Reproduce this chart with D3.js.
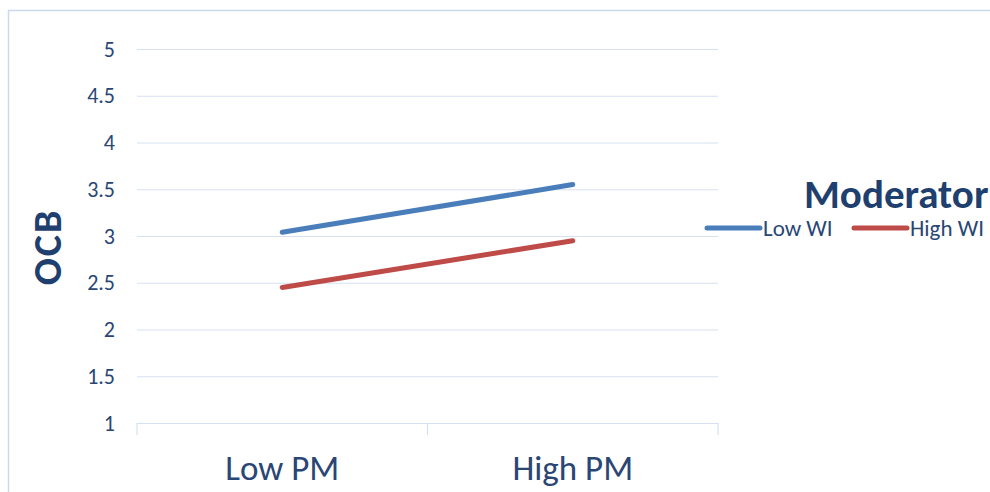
<!DOCTYPE html>
<html>
<head>
<meta charset="utf-8">
<script src="https://cdn.jsdelivr.net/npm/d3@7"></script>
<style>
  body { margin: 0; background: #fff; }
  svg { display: block; }
</style>
</head>
<body>
<div class="container"></div>
<script>
const categories = ["Low PM", "High PM"];
const seriesNames = ["Low WI", "High WI"];
const lowWI = [3.04, 3.55];
const highWI = [2.45, 2.95];
const yTicks = [1, 1.5, 2, 2.5, 3, 3.5, 4, 4.5, 5];
const colors = ["#4a7ebb", "#be4b48"];

const width = 990, height = 492;
const margin = { top: 49, bottom: 69, left: 137, right: 272 };
const txt = "#2a4674";
const font = "Carlito, Calibri, Lato, sans-serif";

let svg = d3.select(".container")
    .append("svg")
    .attr("width", width)
    .attr("height", height)
    .style("font-family", font);

// chart border
svg.append("rect")
    .attr("x", 8.5).attr("y", 10.5)
    .attr("width", 1000).attr("height", 500)
    .attr("fill", "none")
    .attr("stroke", "#c9daee")
    .attr("stroke-width", 1.5);

let y = d3.scaleLinear()
    .domain([1, 5])
    .range([height - margin.bottom, margin.top]);

let x = d3.scaleBand()
    .domain(categories)
    .range([margin.left, width - margin.right]);

// gridlines + y labels
let yAxis = svg.append("g")
    .attr("transform", `translate(${margin.left}, 0)`)
    .call(d3.axisLeft(y).tickValues(yTicks).tickSize(-(width - margin.left - margin.right)).tickFormat(d3.format("")).tickPadding(22));
yAxis.select(".domain").remove();
yAxis.selectAll("line").attr("stroke", "#d5e1f0").attr("stroke-width", 1.2);
yAxis.selectAll("text").attr("fill", txt).style("font-size", "22px").style("font-family", font);

// x axis
let xAxis = svg.append("g")
    .attr("transform", `translate(0, ${y(1)})`)
    .call(d3.axisBottom(x).tickSize(0).tickPadding(32));
xAxis.select(".domain").attr("stroke", "#d5e1f0").attr("stroke-width", 1.2);
xAxis.selectAll("text").attr("fill", txt).style("font-size", "35px").style("font-family", font);
let bounds = [margin.left, margin.left + x.bandwidth(), width - margin.right];
xAxis.selectAll(".sep").data(bounds).enter().append("line")
    .attr("x1", d => d).attr("x2", d => d)
    .attr("y1", 0).attr("y2", 12)
    .attr("stroke", "#d5e1f0").attr("stroke-width", 1.2);

// lines
let line = d3.line()
    .x((d, i) => x(categories[i]) + x.bandwidth() / 2)
    .y(d => y(d));

[lowWI, highWI].forEach((s, i) => {
    svg.append("path")
        .attr("d", line(s))
        .attr("fill", "none")
        .attr("stroke", colors[i])
        .attr("stroke-width", 5)
        .attr("stroke-linecap", "round");
});

// y title
svg.append("text")
    .attr("transform", `translate(61, ${y(3) + 11}) rotate(-90)`)
    .attr("text-anchor", "middle")
    .attr("fill", "#1f3f6e")
    .style("font-size", "40px")
    .style("font-weight", "bold")
    .style("letter-spacing", "2px")
    .text("OCB");

// legend
svg.append("text")
    .attr("x", 804).attr("y", 208)
    .attr("fill", "#1f3f6e")
    .style("font-size", "41px")
    .style("font-weight", "bold")
    .text("Moderator");

let legendX = [705, 852];
seriesNames.forEach((n, i) => {
    let g = svg.append("g").attr("transform", `translate(${legendX[i]}, 228)`);
    g.append("line")
        .attr("x1", 2).attr("x2", 55)
        .attr("stroke", colors[i]).attr("stroke-width", 5)
        .attr("stroke-linecap", "round");
    g.append("text")
        .attr("x", 58).attr("y", 8)
        .attr("fill", txt)
        .style("font-size", "23px")
        .text(n);
});
</script>
</body>
</html>
